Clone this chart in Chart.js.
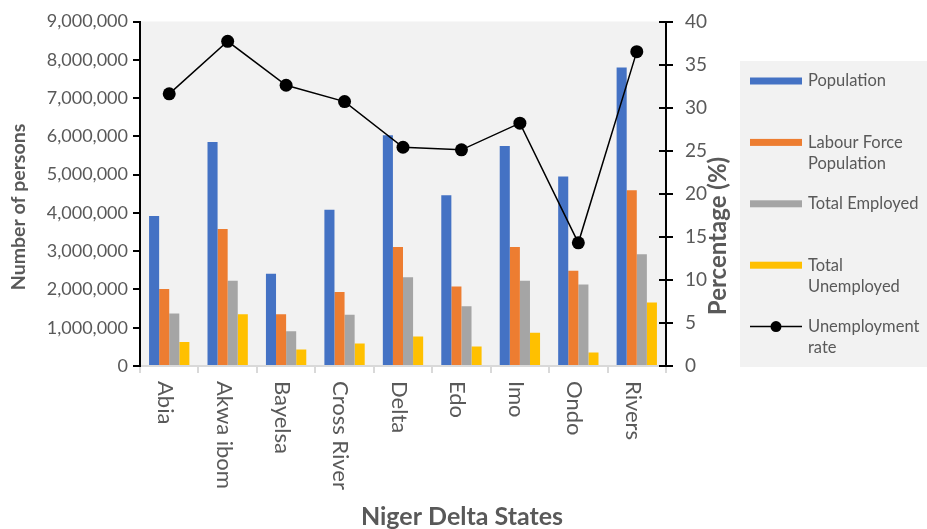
<!DOCTYPE html>
<html>
<head>
<meta charset="utf-8">
<script src="https://cdn.jsdelivr.net/npm/chart.js@4/dist/chart.umd.min.js"></script>
<style>
  html, body { margin: 0; padding: 0; background: #ffffff; }
  canvas { display: block; }
</style>
</head>
<body>
<canvas id="chart" width="927" height="529"></canvas>
<script>
// Niger Delta states: population, labour force, employment and unemployment rate
const states = ['Abia', 'Akwa ibom', 'Bayelsa', 'Cross River', 'Delta', 'Edo', 'Imo', 'Ondo', 'Rivers'];

const population        = [3920000, 5850000, 2410000, 4080000, 6030000, 4460000, 5750000, 4950000, 7800000];
const labourForce       = [2010000, 3580000, 1350000, 1930000, 3110000, 2080000, 3110000, 2490000, 4590000];
const totalEmployed     = [1370000, 2230000,  910000, 1340000, 2320000, 1560000, 2230000, 2130000, 2920000];
const totalUnemployed   = [ 630000, 1350000,  430000,  590000,  770000,  510000,  870000,  350000, 1660000];
const unemploymentRate  = [31.6, 37.7, 32.6, 30.7, 25.4, 25.1, 28.2, 14.3, 36.5];

// Series names; '\n' marks where the legend entry wraps
const seriesNames = ['Population', 'Labour Force\nPopulation', 'Total Employed', 'Total\nUnemployed', 'Unemployment\nrate'];

const personsTicks = { min: 0, max: 9000000, step: 1000000 };
const percentTicks = { min: 0, max: 40, step: 5 };

const axisTitles = { left: 'Number of persons', right: 'Percentage (%)', bottom: 'Niger Delta States' };

const TEXT = '#595959';
const FONT = 'Lato, "Open Sans", sans-serif';
const plain = s => s.replace('\n', ' ');

// Plot background, rotated category labels, axis titles, inner half of right ticks and legend
const decorations = {
  id: 'decorations',
  beforeDraw(chart) {
    const { ctx, chartArea: a } = chart;
    ctx.save();
    ctx.fillStyle = '#f2f2f2';
    ctx.fillRect(a.left, a.top, a.right - a.left, a.bottom - a.top);
    ctx.restore();
  },
  afterDraw(chart) {
    const { ctx, chartArea: a, scales } = chart;
    ctx.save();

    // category labels, reading top to bottom
    ctx.fillStyle = TEXT;
    ctx.font = '22px ' + FONT;
    ctx.textAlign = 'left';
    ctx.textBaseline = 'middle';
    chart.data.labels.forEach((lab, i) => {
      const x = scales.x.getPixelForTick(i) - 4;
      ctx.save();
      ctx.translate(x, a.bottom + 15);
      ctx.rotate(Math.PI / 2);
      ctx.fillText(lab, 0, 0);
      ctx.restore();
    });

    // axis titles
    ctx.font = 'bold 19.5px ' + FONT;
    ctx.textAlign = 'center';
    ctx.save();
    ctx.translate(19, 207);
    ctx.rotate(-Math.PI / 2);
    ctx.fillText(axisTitles.left, 0, 0);
    ctx.restore();

    ctx.font = 'bold 24px ' + FONT;
    ctx.save();
    ctx.translate(718, 236);
    ctx.rotate(-Math.PI / 2);
    ctx.fillText(axisTitles.right, 0, 0);
    ctx.restore();

    ctx.font = 'bold 25px ' + FONT;
    ctx.fillText(axisTitles.bottom, 462, 517);

    // right axis tick marks cross the axis line
    const y1 = scales.y1;
    ctx.strokeStyle = '#000';
    ctx.lineWidth = 2;
    y1.ticks.forEach(t => {
      const y = Math.round(y1.getPixelForValue(t.value));
      ctx.beginPath();
      ctx.moveTo(a.right - 7, y);
      ctx.lineTo(a.right, y);
      ctx.stroke();
    });

    // legend panel
    const lx = 740, ly = 61, lw = 187, lh = 306;
    ctx.fillStyle = '#f2f2f2';
    ctx.fillRect(lx, ly, lw, lh);
    ctx.font = '16.5px ' + FONT;
    ctx.textAlign = 'left';
    ctx.textBaseline = 'middle';
    chart.data.datasets.forEach((ds, i) => {
      const y = 81 + i * 61.4;
      if (ds.type === 'line') {
        ctx.strokeStyle = ds.borderColor;
        ctx.lineWidth = 1.5;
        ctx.beginPath();
        ctx.moveTo(750, y);
        ctx.lineTo(802, y);
        ctx.stroke();
        ctx.fillStyle = ds.pointBackgroundColor;
        ctx.beginPath();
        ctx.arc(776, y, 5.5, 0, Math.PI * 2);
        ctx.fill();
      } else {
        ctx.fillStyle = ds.backgroundColor;
        ctx.fillRect(750, y - 3.5, 52, 7);
      }
      ctx.fillStyle = TEXT;
      seriesNames[i].split('\n').forEach((line, k) => {
        ctx.fillText(line, 808, y + k * 21.5);
      });
    });
    ctx.restore();
  }
};

const barStyle = { categoryPercentage: 0.69, barPercentage: 1.0, borderWidth: 0, order: 1 };

new Chart(document.getElementById('chart'), {
  type: 'bar',
  data: {
    labels: states,
    datasets: [
      { label: plain(seriesNames[0]), data: population,      backgroundColor: '#4472c4', yAxisID: 'y', ...barStyle },
      { label: plain(seriesNames[1]), data: labourForce,     backgroundColor: '#ed7d31', yAxisID: 'y', ...barStyle },
      { label: plain(seriesNames[2]), data: totalEmployed,   backgroundColor: '#a5a5a5', yAxisID: 'y', ...barStyle },
      { label: plain(seriesNames[3]), data: totalUnemployed, backgroundColor: '#ffc000', yAxisID: 'y', ...barStyle },
      {
        type: 'line', label: plain(seriesNames[4]), data: unemploymentRate, yAxisID: 'y1', order: 0,
        borderColor: '#000000', borderWidth: 1.5, tension: 0,
        pointRadius: 6.5, pointBackgroundColor: '#000000', pointBorderColor: '#000000', pointBorderWidth: 0
      }
    ]
  },
  options: {
    responsive: false,
    animation: false,
    events: [],
    layout: { padding: { top: 19, left: 0, right: 0, bottom: 0 } },
    plugins: { legend: { display: false }, tooltip: { enabled: false } },
    scales: {
      x: {
        grid: { offset: true, drawOnChartArea: false, drawTicks: true, tickLength: 7, color: '#d9d9d9', lineWidth: 2 },
        border: { color: '#d9d9d9', width: 2 },
        ticks: { display: false },
        afterFit(s) { s.height = 163; }
      },
      y: {
        position: 'left',
        min: personsTicks.min, max: personsTicks.max,
        ticks: {
          stepSize: personsTicks.step, color: TEXT, padding: 5,
          font: { family: FONT, size: 18, lineHeight: 1 },
          callback: v => Number(v).toLocaleString('en-US')
        },
        grid: { drawOnChartArea: false, tickLength: 7, color: '#000000', lineWidth: 2 },
        border: { color: '#000000', width: 2 },
        afterFit(s) { s.width = 140; }
      },
      y1: {
        position: 'right',
        min: percentTicks.min, max: percentTicks.max,
        ticks: {
          stepSize: percentTicks.step, color: TEXT, padding: 12,
          font: { family: FONT, size: 19, lineHeight: 1 }
        },
        grid: { drawOnChartArea: false, tickLength: 7, color: '#000000', lineWidth: 2 },
        border: { color: '#000000', width: 2 },
        afterFit(s) { s.width = 261; }
      }
    }
  },
  plugins: [decorations]
});
</script>
</body>
</html>
